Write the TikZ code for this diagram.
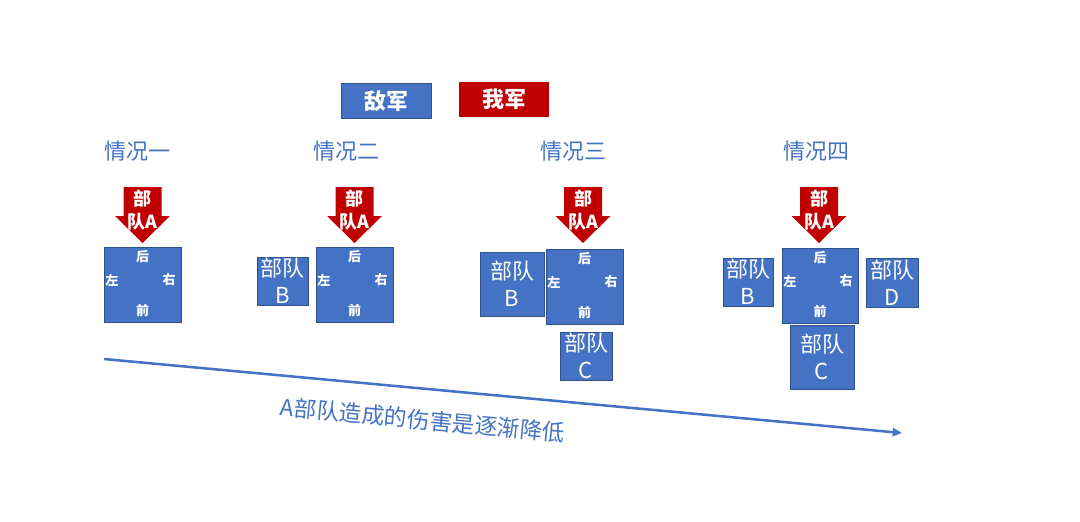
\documentclass[tikz,border=0pt]{standalone}
\usepackage{fontspec}
\setmainfont{Noto Sans CJK SC}
\usetikzlibrary{positioning,arrows.meta}
\definecolor{enemyblue}{HTML}{4472C4}
\definecolor{edgeblue}{HTML}{2F528F}
\definecolor{ourred}{HTML}{C00000}
\begin{document}
\begin{tikzpicture}[x=0.75pt,y=-0.75pt,
            main box/.style={rectangle,fill=enemyblue,draw=edgeblue,line width=0.5pt,inner sep=0pt},
            unit box/.style={main box,text=white,align=center,font=\fontsize{16.5pt}{20pt}\selectfont},
            tag/.style={text=white,inner sep=0pt,font=\fontsize{9.75pt}{11pt}\selectfont\bfseries},
            title/.style={text=enemyblue,font=\fontsize{16.5pt}{20pt}\selectfont},
            legend/.style={rectangle,minimum width=67.5pt,minimum height=26.5pt,inner sep=0pt,
                text=white,font=\fontsize{16.5pt}{20pt}\selectfont\bfseries}]
        \useasboundingbox (0,0) rectangle (1080,521);

        % Legend
        \node[legend,fill=enemyblue,draw=edgeblue,line width=0.5pt] (enemy) at (386,101) {敌军};
        \node[legend,fill=ourred] (ours) at (504,99.5) {我军};

        % Titles
        \node[title] (t1) at (137,151) {情况一};
        \node[title] (t2) at (346,151) {情况二};
        \node[title] (t3) at (573,151) {情况三};
        \node[title] (t4) at (816,151) {情况四};

        % Attacking unit A
        \foreach \cx/\name in {142.5/a1,354.5/a2,583/a3,819/a4} {
            \fill[ourred] (\cx-19,187) -- (\cx+19,187) -- (\cx+19,216) -- (\cx+27.5,216)
                -- (\cx,243) -- (\cx-27.5,216) -- (\cx-19,216) -- cycle;
            \node[text=white,align=center,inner sep=0pt,
                font=\fontsize{13.5pt}{17pt}\selectfont\bfseries] (\name) at (\cx,210) {部\\队A};
        }

        % Enemy main bodies
        \node[main box,minimum width=57.75pt,minimum height=56.25pt] (m1) at (142.5,284.5) {};
        \node[main box,minimum width=57.75pt,minimum height=56.25pt] (m2) at (354.5,284.5) {};
        \node[main box,minimum width=57.75pt,minimum height=56.25pt] (m3) at (584.5,286.5) {};
        \node[main box,minimum width=57pt,minimum height=56.25pt] (m4) at (820,285.5) {};

        \foreach \m in {m1,m2,m3,m4} {
            \node[tag,below=2.5pt of \m.north] {后};
            \node[tag,above=4pt of \m.south] {前};
            \node[tag,right=1pt of \m.west,yshift=3.4pt] {左};
            \node[tag,left=4pt of \m.east,yshift=3.4pt] {右};
        }

        % Other units
        \node[unit box,minimum width=38.25pt,minimum height=36pt] (b2) at (282.5,281) {部队\\B};
        \node[unit box,minimum width=48pt,minimum height=48pt] (b3) at (512,284) {部队\\B};
        \node[unit box,minimum width=39pt,minimum height=36pt] (c3) at (586,356) {部队\\C};
        \node[unit box,minimum width=37.5pt,minimum height=36pt] (b4) at (748,282) {部队\\B};
        \node[unit box,minimum width=39pt,minimum height=36.75pt] (d4) at (892,282.5) {部队\\D};
        \node[unit box,minimum width=48pt,minimum height=48pt] (c4) at (822,357) {部队\\C};

        % Trend
        \coordinate (from) at (104,359);
        \coordinate (to) at (902,433);
        \draw[-{Triangle[length=7pt,width=6pt]},enemyblue,line width=1.9pt] (from) -- (to);
        \node[title,rotate=-5.4,font=\fontsize{17pt}{20pt}\selectfont] (trend) at (423,420) {A部队造成的伤害是逐渐降低};

\end{tikzpicture}
\end{document}
